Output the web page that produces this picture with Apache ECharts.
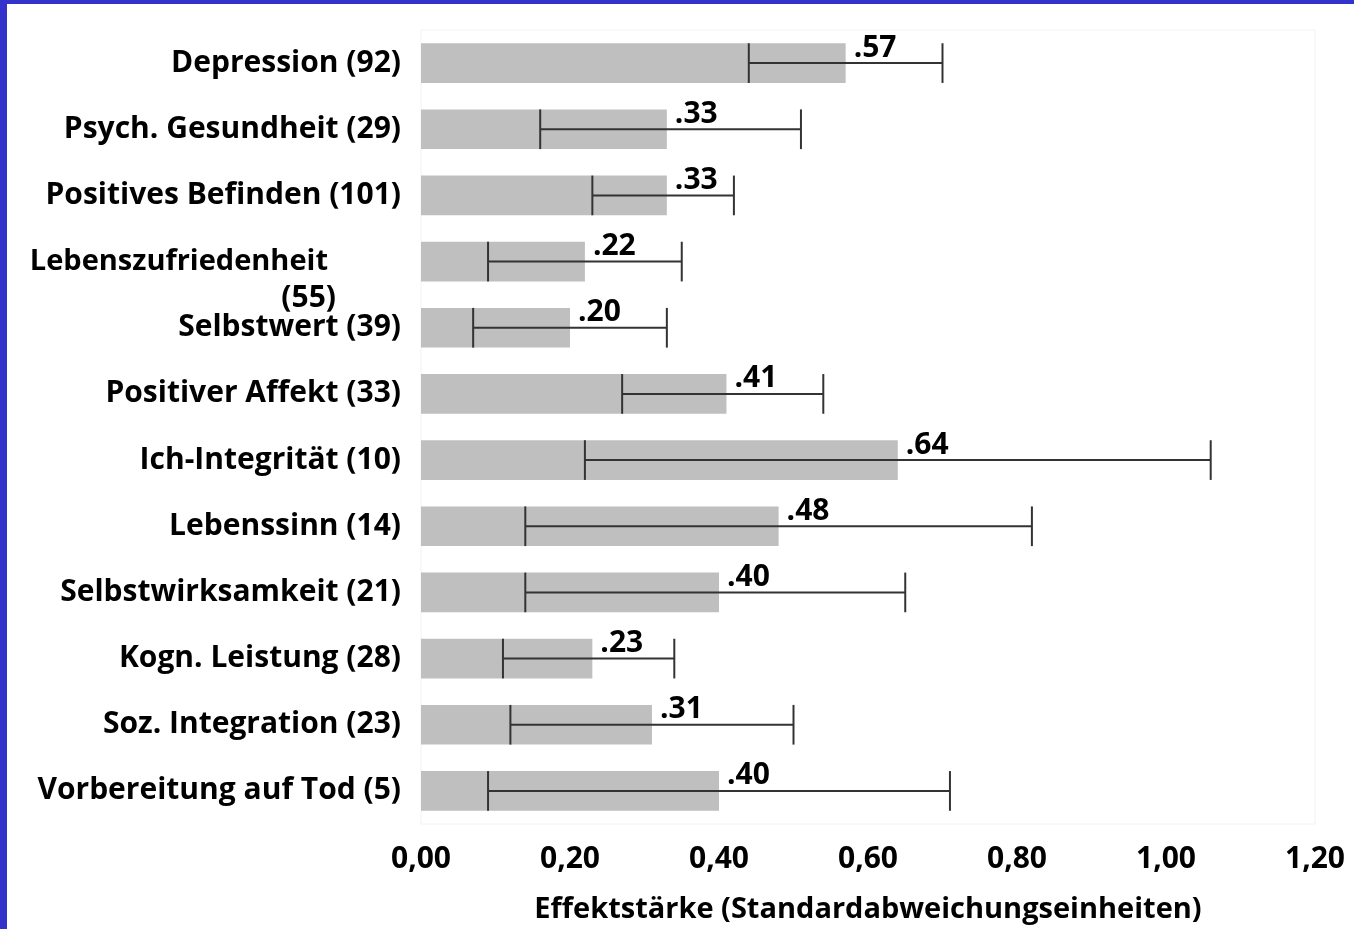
<!DOCTYPE html>
<html>
<head>
<meta charset="utf-8">
<script src="https://cdn.jsdelivr.net/npm/echarts@6/dist/echarts.min.js"></script>
<style>
  html, body { margin: 0; padding: 0; background: #ffffff; overflow: hidden; }
  #frame {
    width: 1347px; height: 925px;
    border-left: 7px solid #3333CC; border-top: 4px solid #3333CC;
    background: #ffffff;
  }
  #chart { width: 1347px; height: 925px; }
</style>
</head>
<body>
<div id="frame"><div id="chart"></div></div>
<script>
// Outcome measures (number of studies in brackets), top to bottom
const categories = [
  'Depression (92)', 'Psych. Gesundheit (29)', 'Positives Befinden (101)',
  'Lebenszufriedenheit (55)', 'Selbstwert (39)', 'Positiver Affekt (33)',
  'Ich-Integrität (10)', 'Lebenssinn (14)', 'Selbstwirksamkeit (21)',
  'Kogn. Leistung (28)', 'Soz. Integration (23)', 'Vorbereitung auf Tod (5)'
];
// Mean effect sizes
const effects = [0.57, 0.33, 0.33, 0.22, 0.20, 0.41, 0.64, 0.48, 0.40, 0.23, 0.31, 0.40];
// Confidence interval bounds
const ciLower = [0.44, 0.16, 0.23, 0.09, 0.07, 0.27, 0.22, 0.14, 0.14, 0.11, 0.12, 0.09];
const ciUpper = [0.70, 0.51, 0.42, 0.35, 0.33, 0.54, 1.06, 0.82, 0.65, 0.34, 0.50, 0.71];
// X axis
const xMin = 0, xMax = 1.2, xStep = 0.2;
const xTitle = 'Effektstärke (Standardabweichungseinheiten)';

const FONT = 'Open Sans';
const chart = echarts.init(document.getElementById('chart'));

const ciData = categories.map((c, i) => [ciLower[i], ciUpper[i], i]);

// The long label wraps its count onto a second line
function formatCategory(v) {
  if (v === 'Lebenszufriedenheit (55)') {
    return '{e| }\n{a|Lebenszufriedenheit}\n{b|(55)}';
  }
  return v;
}

const txt = { color: '#000', fontFamily: FONT, fontWeight: 'bold', fontSize: 30 };
const txtSmall = { color: '#000', fontFamily: FONT, fontWeight: 'bold', fontSize: 29 };

chart.setOption({
  animation: false,
  backgroundColor: '#ffffff',
  grid: {
    left: 414, right: 39, top: 26, bottom: 100,
    show: true, borderColor: '#f2f2f2', borderWidth: 1, backgroundColor: 'transparent'
  },
  xAxis: {
    type: 'value', min: xMin, max: xMax, interval: xStep,
    axisLine: { show: false }, axisTick: { show: false }, splitLine: { show: false },
    axisLabel: Object.assign({ margin: 20, formatter: v => v.toFixed(2).replace('.', ',') }, txt),
    name: xTitle, nameLocation: 'middle', nameGap: 71,
    nameTextStyle: txtSmall
  },
  yAxis: {
    type: 'category', data: categories, inverse: true,
    axisLine: { show: false }, axisTick: { show: false },
    axisLabel: Object.assign({
      margin: 20,
      formatter: formatCategory,
      rich: {
        e: Object.assign({ lineHeight: 37 }, txt),
        a: Object.assign({ lineHeight: 37, padding: [0, 73, 0, 0] }, txtSmall),
        b: Object.assign({ lineHeight: 37, padding: [0, 65, 0, 0] }, txt)
      }
    }, txt)
  },
  series: [
    {
      type: 'bar', data: effects, barCategoryGap: '40%',
      itemStyle: { color: '#bfbfbf' },
      label: Object.assign({
        show: true, position: 'right', distance: 8, offset: [0, -15],
        formatter: p => p.value.toFixed(2).replace(/^0/, '')
      }, txt),
      z: 2
    },
    {
      type: 'custom', data: ciData, z: 3,
      encode: { x: [0, 1], y: 2 },
      renderItem: (params, api) => {
        const idx = api.value(2);
        const p0 = api.coord([api.value(0), idx]);
        const p1 = api.coord([api.value(1), idx]);
        const half = api.size([0, 1])[1] * 0.6 / 2;
        const style = { stroke: '#333333', lineWidth: 2 };
        return {
          type: 'group',
          children: [
            { type: 'line', shape: { x1: p0[0], y1: p0[1], x2: p1[0], y2: p1[1] }, style },
            { type: 'line', shape: { x1: p0[0], y1: p0[1] - half, x2: p0[0], y2: p0[1] + half }, style },
            { type: 'line', shape: { x1: p1[0], y1: p1[1] - half, x2: p1[0], y2: p1[1] + half }, style }
          ]
        };
      }
    }
  ]
});
</script>
</body>
</html>
